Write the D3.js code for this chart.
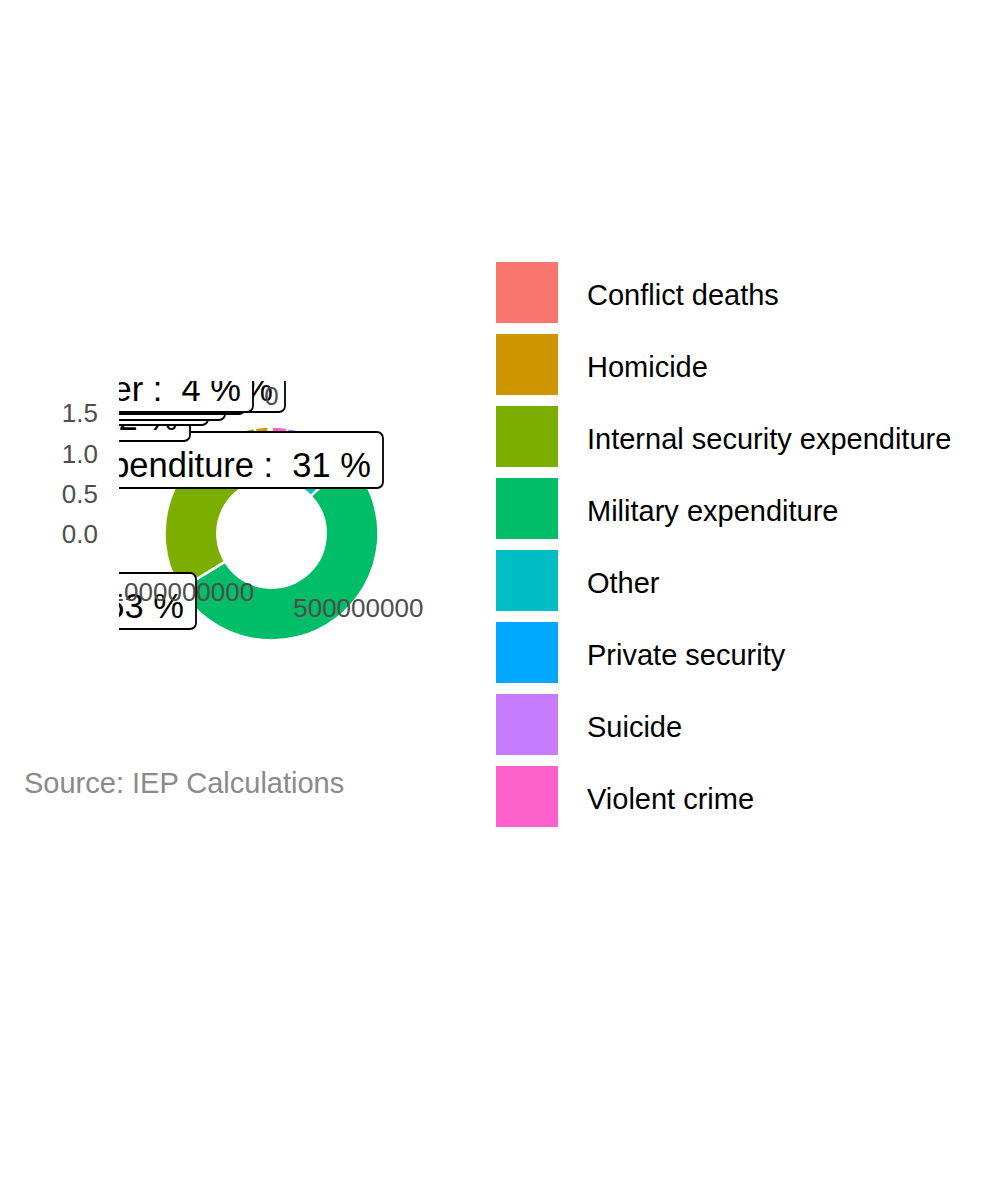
<!DOCTYPE html>
<html>
<head>
<meta charset="utf-8">
<script src="https://cdn.jsdelivr.net/npm/d3@7"></script>
<style>
  html, body { margin: 0; padding: 0; background: #ffffff; }
  svg { display: block; }
  text { font-family: "Liberation Sans", Arial, Helvetica, sans-serif; }
</style>
</head>
<body>
<svg id="chart" width="998" height="1181"></svg>
<script>
// ---------------- data ----------------
const categories = [
  "Conflict deaths",
  "Homicide",
  "Internal security expenditure",
  "Military expenditure",
  "Other",
  "Private security",
  "Suicide",
  "Violent crime"
];
const values = [5900000, 30900000, 458600000, 785000000, 58800000, 55900000, 39700000, 35300000];
const colors = ["#F8766D", "#CD9600", "#7CAE00", "#00BE67", "#00BFC4", "#00A9FF", "#C77CFF", "#FF61CC"];
const thetaTicks = [0, 500000000, 1000000000];
const thetaTickLabels = ["0", "500000000", "1000000000"];
const rTicks = [0, 0.5, 1.0, 1.5];
const rTickLabels = ["0.0", "0.5", "1.0", "1.5"];
const caption = "Source: IEP Calculations";
// order in which the (repelled) labels were painted
const labelDrawOrder = [
  "Internal security expenditure", "Military expenditure", "Conflict deaths",
  "Homicide", "Suicide", "Private security", "Violent crime", "Other"
];

// ---------------- layout ----------------
const L = {
  panelX: 119, panelY: 381, panelSize: 305,
  ringInner: 0.675, ringOuter: 1.333, rMax: 1.52,
  thetaLabelR: 138, thetaHjustK: 0.27, thetaFont: 26, rFont: 26, labelFont: 34.5,
  labelPadX: 12, labelBoxH: 56, labelBaseFromBottom: 11,
  legendX: 496, legendY: 262, keyW: 62, keyH: 61, keyStep: 72, legendTextX: 587, legendFont: 29,
  captionX: 24, captionY: 793, captionFont: 29
};
// label box right / bottom edges (from label repulsion), px
const labelBoxes = {
  "Internal security expenditure": [383, 488],
  "Military expenditure": [196, 629],
  "Conflict deaths": [285, 412],
  "Homicide": [190, 441],
  "Suicide": [208, 425],
  "Private security": [225, 420],
  "Violent crime": [245, 414],
  "Other": [253, 412]
};

const svg = d3.select("#chart");
svg.append("rect").attr("width", 998).attr("height", 1181).attr("fill", "#ffffff");

const cx = L.panelX + L.panelSize / 2;
const cy = L.panelY + L.panelSize / 2;
const total = d3.sum(values);

const aScale = d3.scaleLinear().domain([0, total]).range([0, 2 * Math.PI]);
const rScale = d3.scaleLinear().domain([0, L.rMax]).range([0, 0.4 * L.panelSize]);
const color = d3.scaleOrdinal().domain(categories).range(colors);

svg.append("defs").append("clipPath").attr("id", "panelClip")
  .append("rect").attr("x", L.panelX).attr("y", L.panelY)
  .attr("width", L.panelSize).attr("height", L.panelSize);

const panel = svg.append("g").attr("clip-path", "url(#panelClip)");

// stacked slices: clockwise from 12 o'clock, last level first
const stackOrder = categories.map((c, i) => ({ cat: c, v: values[i] })).reverse();
let acc = 0;
stackOrder.forEach(d => { d.start = acc; acc += d.v; d.end = acc; });

const arc = d3.arc()
  .innerRadius(rScale(L.ringInner))
  .outerRadius(rScale(L.ringOuter));

panel.append("g").attr("transform", `translate(${cx},${cy})`)
  .selectAll("path").data(stackOrder).join("path")
  .attr("d", d => arc({ startAngle: aScale(d.start), endAngle: aScale(d.end) }))
  .attr("fill", d => color(d.cat))
  .attr("stroke", "#ffffff")
  .attr("stroke-width", 2.5);

// labels
const pct = categories.map((c, i) => Math.round(values[i] / total * 100));
const labelG = panel.append("g");
labelDrawOrder.forEach(cat => {
  const i = categories.indexOf(cat);
  const txt = `${cat} :  ${pct[i]} %`;
  const [right, bottom] = labelBoxes[cat];
  const g = labelG.append("g");
  const rect = g.append("rect");
  const t = g.append("text")
    .attr("x", right - L.labelPadX)
    .attr("y", bottom - L.labelBaseFromBottom)
    .attr("text-anchor", "end")
    .attr("font-size", L.labelFont)
    .attr("fill", "#000000")
    .style("white-space", "pre")
    .attr("xml:space", "preserve")
    .text(txt);
  const w = t.node().getComputedTextLength();
  rect.attr("x", right - 2 * L.labelPadX - w)
    .attr("y", bottom - L.labelBoxH)
    .attr("width", w + 2 * L.labelPadX)
    .attr("height", L.labelBoxH)
    .attr("rx", 6).attr("ry", 6)
    .attr("fill", "#ffffff")
    .attr("stroke", "#000000")
    .attr("stroke-width", 1.8);
});

// theta axis labels (foreground, clipped to panel)
thetaTicks.forEach((v, i) => {
  const th = aScale(v);
  const ax = cx + L.thetaLabelR * Math.sin(th);
  const ay = cy - L.thetaLabelR * Math.cos(th);
  const t = panel.append("text")
    .attr("font-size", L.thetaFont)
    .attr("fill", "#4D4D4D")
    .text(thetaTickLabels[i]);
  const w = t.node().getComputedTextLength();
  const hj = 0.5 + L.thetaHjustK * Math.sin(th);
  t.attr("x", ax - hj * w).attr("y", ay + 0.358 * L.thetaFont);
});

// r axis labels
svg.append("g").selectAll("text").data(rTicks).join("text")
  .attr("x", L.panelX - 21)
  .attr("y", d => cy - rScale(d) + 0.358 * L.rFont)
  .attr("text-anchor", "end")
  .attr("font-size", L.rFont)
  .attr("fill", "#4D4D4D")
  .text((d, i) => rTickLabels[i]);

// legend
const leg = svg.append("g");
categories.forEach((c, i) => {
  const y0 = L.legendY + i * L.keyStep;
  leg.append("rect")
    .attr("x", L.legendX).attr("y", y0)
    .attr("width", L.keyW).attr("height", L.keyH)
    .attr("fill", color(c));
  leg.append("text")
    .attr("x", L.legendTextX)
    .attr("y", y0 + L.keyH / 2 + 0.38 * L.legendFont + 1)
    .attr("font-size", L.legendFont)
    .attr("fill", "#000000")
    .text(c);
});

// caption
svg.append("text")
  .attr("x", L.captionX).attr("y", L.captionY)
  .attr("font-size", L.captionFont)
  .attr("fill", "#8A8A8A")
  .text(caption);
</script>
</body>
</html>
